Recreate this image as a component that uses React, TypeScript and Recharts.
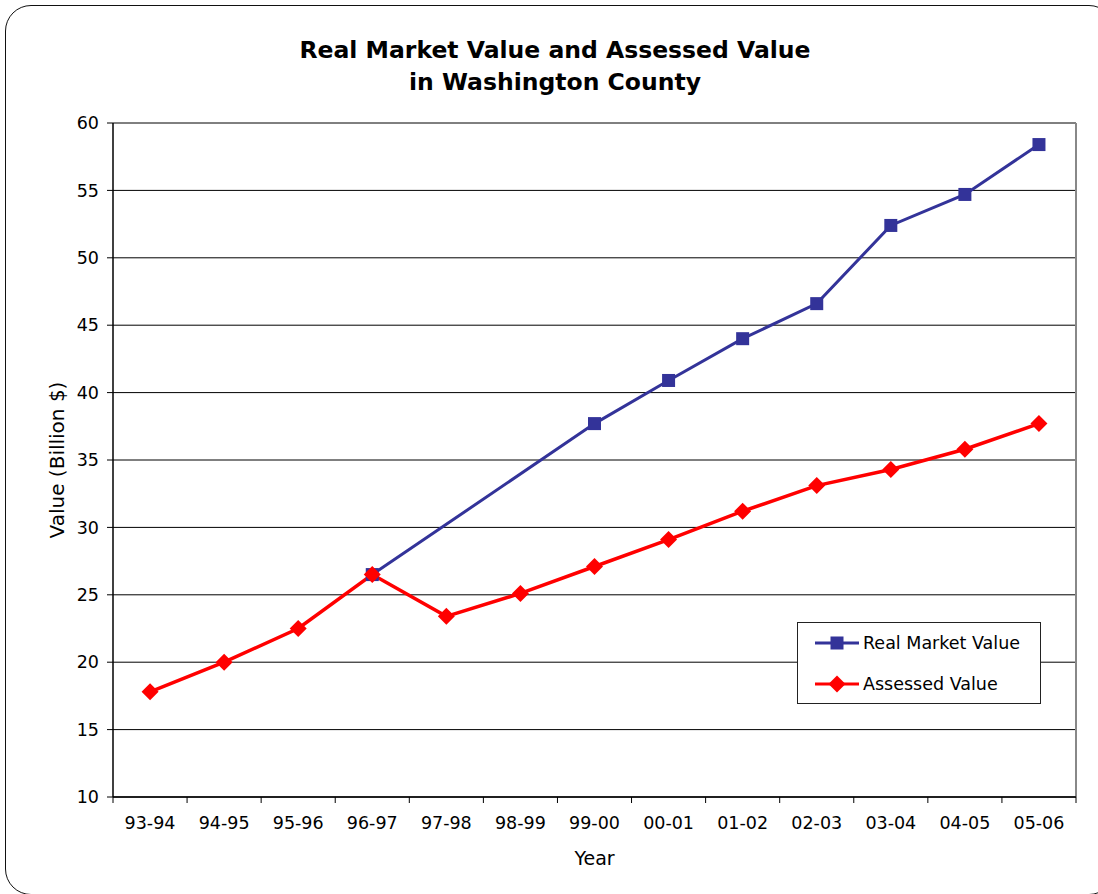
import React from 'react'
import {
  LineChart,
  Line,
  XAxis,
  YAxis,
  CartesianGrid,
  Legend,
} from 'recharts'

// chart data
const years = [
  '93-94', '94-95', '95-96', '96-97', '97-98', '98-99', '99-00',
  '00-01', '01-02', '02-03', '03-04', '04-05', '05-06',
]
const realMarketValue = [
  null, null, null, 26.5, null, null, 37.7, 40.9, 44.0, 46.6, 52.4, 54.7, 58.4,
]
const assessedValue = [
  17.8, 20.0, 22.5, 26.5, 23.4, 25.1, 27.1, 29.1, 31.2, 33.1, 34.3, 35.8, 37.7,
]
const yTicks = [10, 15, 20, 25, 30, 35, 40, 45, 50, 55, 60]

const data = years.map((year, i) => ({
  year,
  real: realMarketValue[i],
  assessed: assessedValue[i],
}))

const FONT = '"DejaVu Sans", Verdana, sans-serif'
const BLUE = '#333399'
const RED = '#ff0000'

const WIDTH = 1098
const HEIGHT = 894
const MARGIN = { top: 123, right: 22, bottom: 27, left: 0 }
const Y_AXIS_W = 113
const PLOT_W = WIDTH - MARGIN.left - MARGIN.right - Y_AXIS_W
const BAND = PLOT_W / years.length

const XTick = (props: any) => {
  const { x, y, payload, index } = props
  const half = BAND / 2
  return (
    <g>
      <line x1={x - half} y1={y} x2={x - half} y2={y + 6} stroke="#000" />
      {index === years.length - 1 && (
        <line x1={x + half} y1={y} x2={x + half} y2={y + 6} stroke="#000" />
      )}
      <text
        x={x}
        y={y + 32}
        textAnchor="middle"
        fontSize={17.5}
        fontFamily={FONT}
        fill="#000"
      >
        {payload.value}
      </text>
    </g>
  )
}

const SquareDot = (props: any) => {
  const { cx, cy, index } = props
  if (cx == null || cy == null) return <g key={`s-${index}`} />
  return (
    <rect key={`s-${index}`} x={cx - 6.5} y={cy - 6.5} width={13} height={13} fill={BLUE} />
  )
}

const DiamondDot = (props: any) => {
  const { cx, cy, index } = props
  if (cx == null || cy == null) return <g key={`d-${index}`} />
  const r = 8.5
  return (
    <path
      key={`d-${index}`}
      d={`M${cx},${cy - r}L${cx + r},${cy}L${cx},${cy + r}L${cx - r},${cy}Z`}
      fill={RED}
    />
  )
}

const legendItems = [
  { name: 'Real Market Value', color: BLUE, marker: 'square' },
  { name: 'Assessed Value', color: RED, marker: 'diamond' },
]

const renderLegend = () => (
  <div
    style={{
      position: 'relative',
      width: 244,
      height: 82,
      boxSizing: 'border-box',
      border: '1px solid #222',
      background: '#fff',
      fontFamily: FONT,
      fontSize: 17.5,
      color: '#000',
    }}
  >
    {legendItems.map((item, i) => (
      <div
        key={item.name}
        style={{
          position: 'absolute',
          left: 16,
          top: 20 + i * 41 - 11,
          height: 22,
          display: 'flex',
          alignItems: 'center',
          whiteSpace: 'nowrap',
        }}
      >
        <svg width={46} height={20} style={{ marginRight: 3 }}>
          <line x1={1} y1={10} x2={45} y2={10} stroke={item.color} strokeWidth={3} />
          {item.marker === 'square' ? (
            <rect x={16.5} y={3.5} width={13} height={13} fill={item.color} />
          ) : (
            <path d="M23,1.5L31.5,10L23,18.5L14.5,10Z" fill={item.color} />
          )}
        </svg>
        <span>{item.name}</span>
      </div>
    ))}
  </div>
)

// right-hand edge of the plot area
const rightEdge = ({ offset }: any) => [offset.left + offset.width]

export default function App() {
  return (
    <div
      style={{
        position: 'absolute',
        left: 0,
        top: 0,
        width: WIDTH,
        height: HEIGHT,
        overflow: 'hidden',
        background: '#fff',
        fontFamily: FONT,
      }}
    >
      <div
        style={{
          position: 'absolute',
          left: 5,
          top: 5,
          width: 1110,
          height: 890,
          boxSizing: 'border-box',
          border: '1.5px solid #111',
          borderRadius: 26,
        }}
      />
      <div
        style={{
          position: 'absolute',
          left: 0,
          top: 34,
          width: 1110,
          textAlign: 'center',
          fontSize: 23.5,
          fontWeight: 'bold',
          lineHeight: '32px',
          color: '#000',
        }}
      >
        Real Market Value and Assessed Value
        <br />
        in Washington County
      </div>
      <div style={{ position: 'absolute', left: 0, top: 0 }}>
        <LineChart width={WIDTH} height={HEIGHT} data={data} margin={MARGIN}>
          <CartesianGrid vertical={false} stroke="#000" strokeWidth={1} />
          <CartesianGrid
            horizontal={false}
            verticalCoordinatesGenerator={rightEdge}
            stroke="#888"
            strokeWidth={2}
          />
          <XAxis
            dataKey="year"
            scale="band"
            interval={0}
            height={70}
            tickLine={false}
            tickSize={0}
            tickMargin={0}
            tick={<XTick />}
            axisLine={{ stroke: '#000', strokeWidth: 1.5 }}
            label={{
              value: 'Year',
              position: 'insideBottom',
              offset: 2,
              style: { fontSize: 19, fontFamily: FONT, fill: '#000' },
            }}
          />
          <YAxis
            width={Y_AXIS_W}
            domain={[10, 60]}
            ticks={yTicks}
            interval={0}
            tickSize={6}
            tickMargin={8}
            tick={{ fontSize: 17.5, fontFamily: FONT, fill: '#000' }}
            tickLine={{ stroke: '#000' }}
            axisLine={{ stroke: '#000', strokeWidth: 1.5 }}
            label={{
              value: 'Value (Billion $)',
              angle: -90,
              position: 'center',
              style: { fontSize: 20, fontFamily: FONT, fill: '#000', textAnchor: 'middle' },
            }}
          />
          <Legend
            layout="vertical"
            align="center"
            verticalAlign="middle"
            content={renderLegend}
            wrapperStyle={{ left: 797, top: 622, width: 244, height: 82 }}
          />
          <Line
            type="linear"
            dataKey="real"
            name="Real Market Value"
            stroke={BLUE}
            strokeWidth={3}
            connectNulls
            dot={<SquareDot />}
            activeDot={false}
            isAnimationActive={false}
          />
          <Line
            type="linear"
            dataKey="assessed"
            name="Assessed Value"
            stroke={RED}
            strokeWidth={3.5}
            dot={<DiamondDot />}
            activeDot={false}
            isAnimationActive={false}
          />
        </LineChart>
      </div>
    </div>
  )
}
